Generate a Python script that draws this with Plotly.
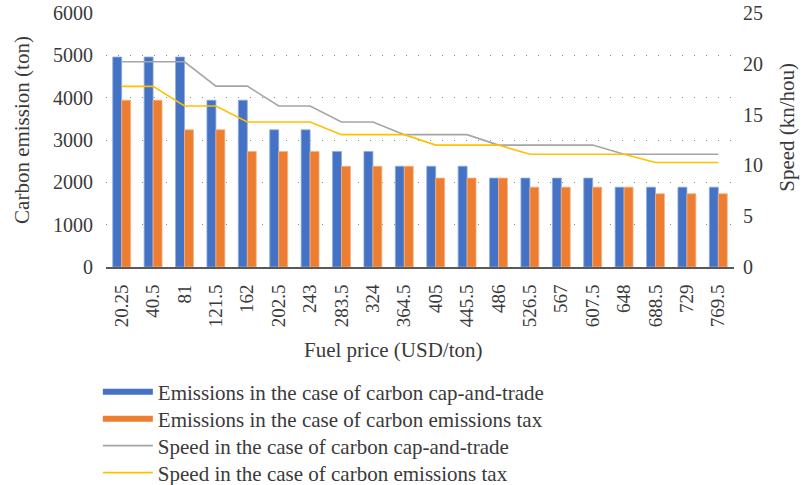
import plotly.graph_objects as go

fuel_price = ["20.25", "40.5", "81", "121.5", "162", "202.5", "243", "283.5", "324", "364.5",
              "405", "445.5", "486", "526.5", "567", "607.5", "648", "688.5", "729", "769.5"]
emis_cap_trade = [4960, 4960, 4960, 3940, 3940, 3240, 3240, 2730, 2730, 2380,
                  2380, 2380, 2100, 2100, 2100, 2100, 1885, 1885, 1885, 1885]
emis_tax = [3940, 3940, 3240, 3240, 2730, 2730, 2730, 2380, 2380, 2380,
            2100, 2100, 2100, 1885, 1885, 1885, 1885, 1730, 1730, 1730]
speed_cap_trade = [20.2, 20.2, 20.2, 17.8, 17.8, 15.85, 15.85, 14.27, 14.27, 13.03,
                   13.03, 13.03, 12.0, 12.0, 12.0, 12.0, 11.1, 11.1, 11.1, 11.1]
speed_tax = [17.78, 17.78, 15.85, 15.85, 14.27, 14.27, 14.27, 13.03, 13.03, 13.03,
             12.0, 12.0, 12.0, 11.1, 11.1, 11.1, 11.1, 10.28, 10.28, 10.28]

names = ["Emissions in the case of carbon cap-and-trade",
         "Emissions in the case of carbon emissions tax",
         "Speed in the case of carbon cap-and-trade",
         "Speed in the case of carbon emissions tax"]
BLUE, ORANGE, GRAY, YELLOW = "#4472C4", "#ED7D31", "#A5A5A5", "#FFC000"
FONT = "Liberation Serif"
TXT = "#3a3a3a"

fig = go.Figure()
fig.add_trace(go.Bar(x=fuel_price, y=emis_cap_trade, name=names[0], showlegend=False,
                     marker=dict(color=BLUE, line=dict(color="#8FAADC", width=0.8))))
fig.add_trace(go.Bar(x=fuel_price, y=emis_tax, name=names[1], showlegend=False,
                     marker=dict(color=ORANGE, line=dict(color="#F4B183", width=0.8))))
fig.add_trace(go.Scatter(x=fuel_price, y=speed_cap_trade, name=names[2], yaxis="y2",
                         mode="lines", line=dict(color=GRAY, width=1.6), showlegend=False))
fig.add_trace(go.Scatter(x=fuel_price, y=speed_tax, name=names[3], yaxis="y2",
                         mode="lines", line=dict(color=YELLOW, width=1.6), showlegend=False))

# legend entries (line-style keys as in the reference), one legend per row
legend_ids = ["legend", "legend2", "legend3", "legend4"]
for nm, col, w, lg in [(names[0], BLUE, 6, legend_ids[0]), (names[1], ORANGE, 6, legend_ids[1]),
                       (names[2], GRAY, 1.6, legend_ids[2]), (names[3], YELLOW, 1.6, legend_ids[3])]:
    fig.add_trace(go.Scatter(x=[None], y=[None], mode="lines", name=nm, legend=lg,
                             line=dict(color=col, width=w), showlegend=True))

row_centers_px = [392, 419, 446, 473]
legend_common = dict(xref="container", yref="container", x=0.122, xanchor="left",
                     yanchor="middle", font=dict(size=21, family=FONT, color=TXT),
                     itemwidth=50, bgcolor="rgba(0,0,0,0)")
legends = {lg: dict(legend_common, y=1 - c / 485) for lg, c in zip(legend_ids, row_centers_px)}

fig.update_layout(
    width=802, height=485,
    margin=dict(l=106, r=68, t=13, b=218, autoexpand=False),
    paper_bgcolor="white", plot_bgcolor="white",
    font=dict(family=FONT, size=20, color=TXT),
    barmode="group", bargap=0.43, bargroupgap=0,
    showlegend=True,
    xaxis=dict(type="category", tickangle=-90, showgrid=False, zeroline=False,
               showline=True, linecolor="#595959", linewidth=2,
               ticks="", ticklabelstandoff=8, tickfont=dict(size=19)),
    yaxis=dict(range=[0, 6000], dtick=1000, showgrid=True, gridcolor="#8c8c8c",
               gridwidth=1.3, griddash="1.3px,10.7px", zeroline=False, showline=False,
               ticks="", ticklabelstandoff=12, tickfont=dict(size=20)),
    yaxis2=dict(range=[0, 25], dtick=5, overlaying="y", side="right", showgrid=False,
                zeroline=False, showline=False, ticks="", ticklabelstandoff=8,
                tickfont=dict(size=20)),
    annotations=[
        dict(text="Fuel price (USD/ton)", xref="paper", yref="paper", x=0.457, y=-0.325,
             showarrow=False, font=dict(size=21), xanchor="center", yanchor="middle"),
        dict(text="Carbon emission (ton)", xref="paper", yref="paper", x=-0.134, y=0.539,
             showarrow=False, font=dict(size=21), textangle=-90, xanchor="center", yanchor="middle"),
        dict(text="Speed (kn/hou)", xref="paper", yref="paper", x=1.084, y=0.551,
             showarrow=False, font=dict(size=21), textangle=-90, xanchor="center", yanchor="middle"),
    ],
    **legends,
)

fig.write_html("out.html", config={"displayModeBar": False},
               post_script="document.body.style.margin='0';")
